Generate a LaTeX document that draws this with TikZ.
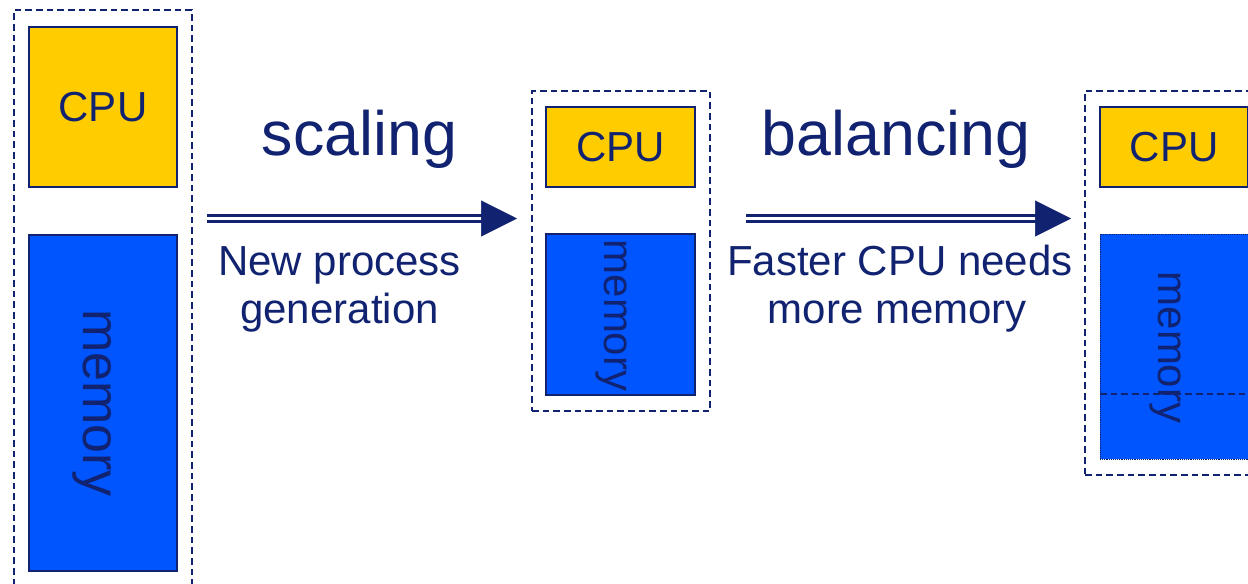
\documentclass[tikz,border=0pt]{standalone}
\usepackage{fontspec}
\setmainfont{Liberation Sans}
\usetikzlibrary{fit,arrows.meta}

\definecolor{navy}{RGB}{16,34,112}
\definecolor{cpugold}{RGB}{255,204,0}
\definecolor{memblue}{RGB}{0,85,255}

\tikzset{
  frame/.style={draw=navy, line width=1.4pt, dash pattern=on 5pt off 3pt, inner sep=0pt},
  cpubox/.style={draw=navy, fill=cpugold, line width=1.2pt, inner sep=0pt},
  cputext/.style={text=navy, inner sep=0pt, font=\fontsize{31.5pt}{36pt}\selectfont},
  membox/.style={draw=navy, fill=memblue, line width=1.2pt, inner sep=0pt},
  grownmem/.style={draw=navy, fill=memblue, line width=0.7pt, dash pattern=on 0.7pt off 0.7pt, inner sep=0pt},
  memtext/.style={text=navy, rotate=-90, inner sep=0pt},
  title/.style={text=navy, anchor=base, inner sep=0pt, font=\fontsize{47pt}{54pt}\selectfont},
  caption/.style={text=navy, anchor=base, inner sep=0pt, font=\fontsize{31.5pt}{36pt}\selectfont},
  shaft/.style={draw=navy, line width=2pt, double=white, double distance=2.5pt},
  head/.style={draw=navy, fill=navy, line width=0.4pt, -{Triangle[length=27pt,width=27pt]}},
  oldlimit/.style={draw=navy, line width=1pt, dash pattern=on 5pt off 3pt}
}

\begin{document}
\begin{tikzpicture}[x=0.75pt, y=-0.75pt]
  \useasboundingbox (0,0) rectangle (1248,583);
  \clip (0,0) rectangle (1248,583);

  % original system
  \node[frame, fit={(14,10) (192,600)}] (fa) {};
  \node[cpubox, fit={(29,27) (177,187)}] (cpuA) {};
  \node[cputext] (cpuAtxt) at (cpuA.center) {CPU};
  \node[membox, fit={(29,235) (177,571)}] (memA) {};
  \node[memtext, font=\fontsize{39pt}{44pt}\selectfont] (memAtxt) at (92.5,403) {memory};

  % scaled system
  \node[frame, fit={(532,91) (710,411)}] (fb) {};
  \node[cpubox, fit={(546,107) (695,187)}] (cpuB) {};
  \node[cputext] (cpuBtxt) at (cpuB.center) {CPU};
  \node[membox, fit={(546,234) (695,395)}] (memB) {};
  \node[memtext, font=\fontsize{31.5pt}{36pt}\selectfont] (memBtxt) at (611.5,315.5) {memory};

  % balanced system
  \node[frame, fit={(1085,91) (1270,475)}] (fc) {};
  \node[grownmem, fit={(1100,234) (1262,459)}] (memC) {};
  \node[cpubox, fit={(1100,107) (1248,187)}] (cpuC) {};
  \node[cputext] (cpuCtxt) at (cpuC.center) {CPU};
  \node[memtext, font=\fontsize{31.5pt}{36pt}\selectfont] (memCtxt) at (1165.5,347.5) {memory};
  \coordinate (oldA) at (1100,394);
  \coordinate (oldB) at (1262,394);
  \draw[oldlimit] (oldA) -- (oldB);

  % transitions
  \coordinate (a1from) at (207,218.5);
  \coordinate (a1to) at (517,218.5);
  \draw[shaft] (a1from) -- ([xshift=-26pt]a1to);
  \draw[head] ([xshift=-27pt]a1to) -- (a1to);

  \coordinate (a2from) at (746,218.5);
  \coordinate (a2to) at (1071,218.5);
  \draw[shaft] (a2from) -- ([xshift=-26pt]a2to);
  \draw[head] ([xshift=-27pt]a2to) -- (a2to);

  \node[title] (scal) at (359.5,155) {scaling};
  \node[title] (bal) at (896,155) {balancing};

  \node[caption] (cap1a) at (339.5,275) {New process};
  \node[caption] (cap1b) at (339.5,323) {generation};
  \node[caption] (cap2a) at (900,275) {Faster CPU needs};
  \node[caption] (cap2b) at (897.5,323) {more memory};
\end{tikzpicture}
\end{document}
